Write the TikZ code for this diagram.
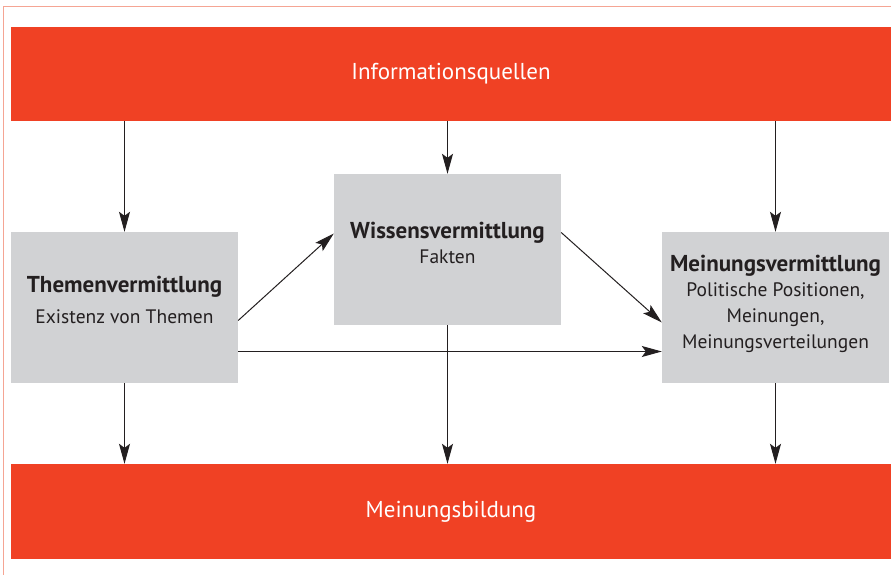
\documentclass[tikz,border=0pt]{standalone}
\usepackage{fontspec}
\setmainfont{PT Sans}
\usetikzlibrary{arrows.meta,calc}
\definecolor{bandred}{HTML}{F04124}
\definecolor{boxgray}{HTML}{D1D2D4}
\definecolor{frame}{HTML}{F5A594}
\definecolor{ink}{HTML}{231F20}
\tikzset{
  band/.style={fill=bandred, draw=none, minimum width=880pt, minimum height=94pt, inner sep=0pt,
    text=white, font=\fontsize{23}{27}\selectfont},
  gbox/.style={fill=boxgray, draw=none, minimum width=227pt, minimum height=151pt, inner sep=0pt},
  lbl/.style={text=ink, align=center, font=\fontsize{19.5}{25.8}\selectfont},
  ttl/.style={font=\bfseries\fontsize{23}{27}\selectfont},
  arr/.style={draw=ink, line width=1pt, -{Stealth[length=20pt,width=11pt,inset=4pt]}},
}
\begin{document}
\begin{tikzpicture}[x=1pt,y=-1pt]
\useasboundingbox (0,0) rectangle (891,575);
\draw[frame, line width=1.5pt] (3.5,575) -- (3.5,6.5) -- (891,6.5);
\node[band] (src) at (451,74) {Informationsquellen};
\node[band, minimum height=95pt] (bild) at (451,511.5) {Meinungsbildung};
\node[gbox] (them) at (124.5,307.5) {};
\node[gbox] (wiss) at (447.5,249.5) {};
\node[gbox] (mein) at (775.5,307.5) {};
\node[lbl] (themt) at (124.5,300) {{\bfseries\fontsize{23}{27}\selectfont Themenvermittlung}\\[6pt]Existenz von Themen};
\node[lbl] (wisst) at (447.5,243) {{\bfseries\fontsize{23}{27}\selectfont Wissensvermittlung}\\[0pt]Fakten};
\node[lbl] (meint) at (775.5,304) {{\bfseries\fontsize{23}{27}\selectfont Meinungsvermittlung}\\[-1pt]Politische Positionen,\\Meinungen,\\Meinungsverteilungen};
\draw[arr] (src.south -| them.north) -- (them.north);
\draw[arr] (src.south -| wiss.north) -- (wiss.north);
\draw[arr] (src.south -| mein.north) -- (mein.north);
\draw[arr] (them.south) -- (them.south |- bild.north);
\draw[arr] (wiss.south) -- (wiss.south |- bild.north);
\draw[arr] (mein.south) -- (mein.south |- bild.north);
\draw[arr] ($(them.east)+(0,13)$) -- ($(wiss.west)+(0,-16)$);
\draw[arr] ($(wiss.east)+(0,-17)$) -- ($(mein.west)+(0,15)$);
\draw[arr] ($(them.east)+(0,44)$) -- ($(mein.west)+(0,44)$);
\end{tikzpicture}
\end{document}
